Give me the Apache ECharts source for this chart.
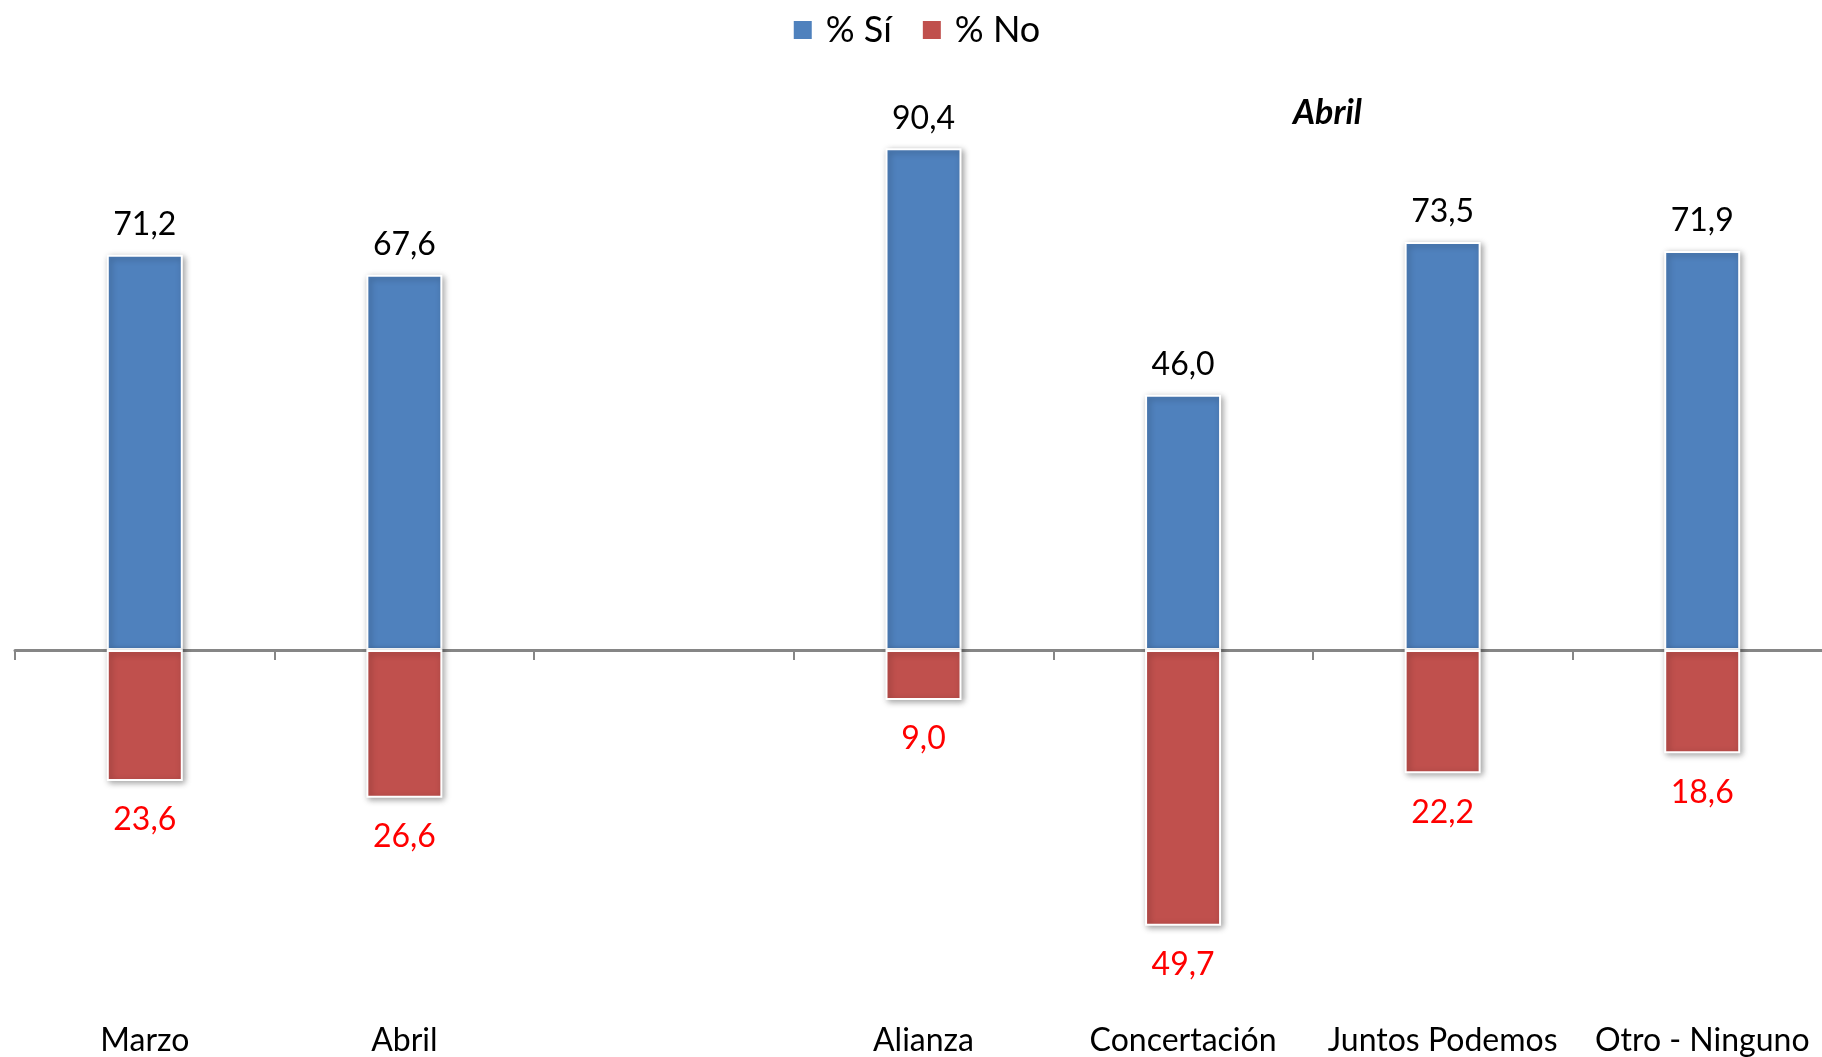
<!DOCTYPE html>
<html>
<head>
<meta charset="utf-8">
<style>html,body{margin:0;padding:0;background:#fff;overflow:hidden;}#c{width:1832px;height:1057px;}</style>
<script src="https://cdn.jsdelivr.net/npm/echarts@6/dist/echarts.min.js"></script>
</head>
<body>
<div id="c"></div>
<script>
const categories = ['Marzo', 'Abril', '', 'Alianza', 'Concertación', 'Juntos Podemos', 'Otro - Ninguno'];
const siValues = [71.2, 67.6, null, 90.4, 46.0, 73.5, 71.9];
const noValues = [23.6, 26.6, null, 9.0, 49.7, 22.2, 18.6];
const seriesNames = ['% Sí', '% No'];
const annotation = 'Abril';

const FONT = 'Lato';
const fmt = v => Math.abs(v).toFixed(1).replace('.', ',');
const chart = echarts.init(document.getElementById('c'), null, {renderer: 'canvas'});
const barStyle = (color) => ({
  color: color,
  borderColor: '#ffffff',
  borderWidth: 2,
  shadowBlur: 6,
  shadowColor: 'rgba(0,0,0,0.35)',
  shadowOffsetX: 2,
  shadowOffsetY: 2
});
chart.setOption({
  animation: false,
  backgroundColor: '#ffffff',
  title: {
    text: annotation,
    left: 1288,
    top: 91,
    textStyle: {fontFamily: FONT, fontSize: 34, fontWeight: 'bold', fontStyle: 'italic', color: '#000'}
  },
  legend: {
    data: seriesNames,
    top: 7,
    left: 'center',
    itemWidth: 20,
    itemHeight: 20,
    itemGap: 29,
    icon: 'rect',
    textStyle: {fontFamily: FONT, fontSize: 36, color: '#000', padding: [0, 0, 0, 8]}
  },
  grid: {left: 15, top: 95, right: 0, bottom: 64, containLabel: false},
  xAxis: [
    {
      type: 'category',
      data: categories,
      position: 'bottom',
      axisLine: {show: false, onZero: false},
      axisTick: {show: false},
      axisLabel: {fontFamily: FONT, fontSize: 32, color: '#000', margin: 42, interval: 0}
    },
    {
      type: 'category',
      data: categories,
      position: 'bottom',
      axisLine: {show: true, onZero: true, lineStyle: {color: '#868686', width: 3}},
      axisTick: {show: true, length: 10, lineStyle: {color: '#868686', width: 2}},
      axisLabel: {show: false}
    }
  ],
  yAxis: {
    type: 'value',
    min: -60,
    max: 100,
    show: false,
    splitLine: {show: false}
  },
  series: [
    {
      name: seriesNames[0],
      type: 'bar',
      stack: 'total',
      xAxisIndex: 0,
      barWidth: 76,
      data: siValues,
      itemStyle: barStyle('#4F81BD'),
      label: {show: true, position: 'top', distance: 14, fontFamily: FONT, fontSize: 32, color: '#000', formatter: p => fmt(p.value)}
    },
    {
      name: seriesNames[1],
      type: 'bar',
      stack: 'total',
      xAxisIndex: 0,
      barWidth: 76,
      data: noValues.map(v => v === null ? null : -v),
      itemStyle: barStyle('#C0504D'),
      label: {show: true, position: 'bottom', distance: 23, fontFamily: FONT, fontSize: 32, color: '#FF0000', formatter: p => fmt(p.value)}
    }
  ]
});
</script>
</body>
</html>
